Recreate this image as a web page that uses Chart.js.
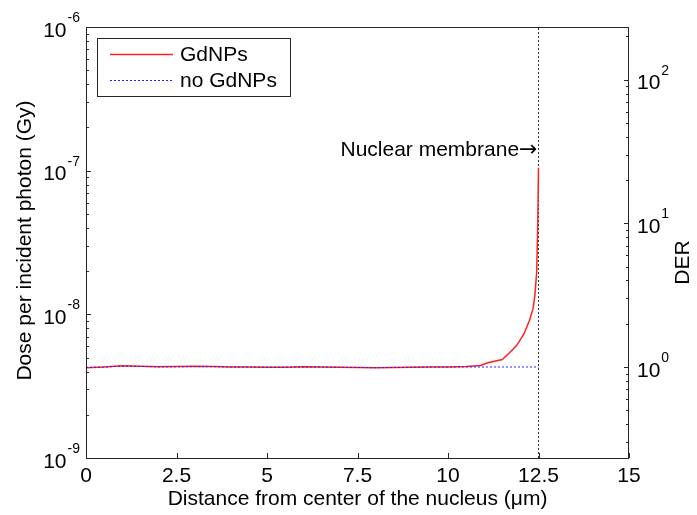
<!DOCTYPE html>
<html>
<head>
<meta charset="utf-8">
<script src="https://cdn.jsdelivr.net/npm/chart.js@4/dist/chart.umd.min.js"></script>
<style>
html,body{margin:0;padding:0;background:#fff;}
canvas{display:block;}
</style>
</head>
<body>
<canvas id="c" width="697" height="515"></canvas>
<script>
// ---- data ----
const distGd = [0, 0.5, 1, 1.5, 2, 2.5, 3, 3.5, 4, 4.5, 5, 5.5, 6, 6.5, 7, 7.5, 8, 8.5, 9, 9.5, 10, 10.5, 10.9, 11.1, 11.5, 11.7, 11.9, 12.1, 12.25, 12.35, 12.4, 12.45, 12.48, 12.5];
const doseGd = [4.25e-9, 4.3e-9, 4.38e-9, 4.36e-9, 4.32e-9, 4.33e-9, 4.35e-9, 4.33e-9, 4.3e-9, 4.3e-9, 4.28e-9, 4.29e-9, 4.31e-9, 4.3e-9, 4.28e-9, 4.26e-9, 4.24e-9, 4.27e-9, 4.29e-9, 4.3e-9, 4.3e-9, 4.33e-9, 4.41e-9, 4.6e-9, 4.85e-9, 5.4e-9, 6.08e-9, 7.33e-9, 9.07e-9, 1.10e-8, 1.35e-8, 1.97e-8, 4.2e-8, 1.05e-7];
const distNoGd = [0, 0.5, 1, 1.5, 2, 2.5, 3, 3.5, 4, 4.5, 5, 5.5, 6, 6.5, 7, 7.5, 8, 8.5, 9, 9.5, 10, 10.5, 11, 11.5, 12, 12.5];
const doseNoGd = [4.27e-9, 4.3e-9, 4.35e-9, 4.34e-9, 4.31e-9, 4.31e-9, 4.33e-9, 4.32e-9, 4.3e-9, 4.3e-9, 4.29e-9, 4.29e-9, 4.3e-9, 4.3e-9, 4.28e-9, 4.27e-9, 4.25e-9, 4.27e-9, 4.29e-9, 4.3e-9, 4.3e-9, 4.3e-9, 4.3e-9, 4.3e-9, 4.3e-9, 4.3e-9];
const membraneX = [12.5, 12.5];
const membraneY = [1e-9, 1e-6];
const seriesLabels = ['GdNPs', 'no GdNPs'];
const xTickValues = [0, 2.5, 5, 7.5, 10, 12.5, 15];
const xTickLabels = ['0', '2.5', '5', '7.5', '10', '12.5', '15'];
const yTickExponents = [-9, -8, -7, -6];
const derTickExponents = [0, 1, 2];
const derBase = 4.3e-9; // dose level that corresponds to DER = 1
const annotText = 'Nuclear membrane';
const annotArrow = '\u2192';
const annotX = 12.5;
const annotY = 1.38e-7;
const xTitle = 'Distance from center of the nucleus (\u03bcm)';
const yTitle = 'Dose per incident photon (Gy)';
const y2Title = 'DER';

const FONT = '"Liberation Sans", Arial, Helvetica, sans-serif';
const FS = 21;
const AX = '#262626';

function pts(xs, ys){ return xs.map((x,i)=>({x:x, y:ys[i]})); }

const decor = {
  id: 'decor',
  afterDraw(chart){
    const ctx = chart.ctx, ca = chart.chartArea;
    const xs = chart.scales.x, ys = chart.scales.y, y2 = chart.scales.y2;
    ctx.save();
    // box
    ctx.strokeStyle = AX; ctx.lineWidth = 1;
    ctx.strokeRect(Math.round(ca.left)+0.5, Math.round(ca.top)+0.5, Math.round(ca.right-ca.left)-1, Math.round(ca.bottom-ca.top));
    // x ticks (inward)
    ctx.beginPath();
    xTickValues.forEach(v=>{
      const px = Math.round(xs.getPixelForValue(v))+0.5;
      ctx.moveTo(px, ca.bottom); ctx.lineTo(px, ca.bottom-5);
    });
    // left y ticks
    for (let e = yTickExponents[0]; e < yTickExponents[yTickExponents.length-1]+1; e++){
      for (let k = 1; k <= 9; k++){
        const v = k*Math.pow(10,e);
        if (v < ys.min*0.999 || v > ys.max*1.001) continue;
        const py = Math.round(ys.getPixelForValue(v))+0.5;
        const len = k===1 ? 5 : 3;
        ctx.moveTo(ca.left, py); ctx.lineTo(ca.left+len, py);
      }
    }
    // right ticks
    for (let e = -1; e <= 2; e++){
      for (let k = 1; k <= 9; k++){
        const v = k*Math.pow(10,e);
        if (v < y2.min || v > y2.max) continue;
        const py = Math.round(y2.getPixelForValue(v))+0.5;
        const len = k===1 ? 5 : 3;
        ctx.moveTo(ca.right, py); ctx.lineTo(ca.right-len, py);
      }
    }
    ctx.stroke();

    ctx.fillStyle = '#000';
    // x tick labels
    ctx.font = FS + 'px ' + FONT;
    ctx.textAlign = 'center'; ctx.textBaseline = 'top';
    xTickValues.forEach((v,i)=>{
      ctx.fillText(xTickLabels[i], xs.getPixelForValue(v), ca.bottom + 8);
    });
    // power labels
    function powLabel(x, y, exp, align){
      ctx.font = FS + 'px ' + FONT;
      const wb = ctx.measureText('10').width;
      ctx.font = '14px ' + FONT;
      const es = String(exp);
      const we = ctx.measureText(es).width;
      let x0 = align === 'right' ? x - wb - we - 1 : x;
      ctx.textAlign = 'left'; ctx.textBaseline = 'middle';
      ctx.font = FS + 'px ' + FONT;
      ctx.fillText('10', x0, y + 4);
      ctx.font = '14px ' + FONT;
      ctx.fillText(es, x0 + wb + 1, y - 9);
    }
    yTickExponents.forEach(e=>{
      powLabel(ca.left - 6, ys.getPixelForValue(Math.pow(10,e)), e, 'right');
    });
    derTickExponents.forEach(e=>{
      powLabel(ca.right + 8, y2.getPixelForValue(Math.pow(10,e)), e, 'left');
    });
    // axis titles
    ctx.font = FS + 'px ' + FONT;
    ctx.textAlign = 'center'; ctx.textBaseline = 'middle';
    ctx.fillText(xTitle, (ca.left+ca.right)/2, ca.bottom + 41);
    ctx.save();
    ctx.translate(25, (ca.top+ca.bottom)/2 - 2);
    ctx.rotate(-Math.PI/2);
    ctx.fillText(yTitle, 0, 0);
    ctx.restore();
    ctx.save();
    ctx.translate(683, (ca.top+ca.bottom)/2 + 20);
    ctx.rotate(-Math.PI/2);
    ctx.fillText(y2Title, 0, 0);
    ctx.restore();
    // annotation
    const ax = xs.getPixelForValue(annotX) - 1, ay = ys.getPixelForValue(annotY);
    ctx.font = '22px "DejaVu Sans", sans-serif';
    const aw = ctx.measureText(annotArrow).width;
    ctx.textAlign = 'right'; ctx.textBaseline = 'middle';
    ctx.fillText(annotArrow, ax, ay);
    ctx.font = FS + 'px ' + FONT;
    ctx.fillText(annotText, ax - aw, ay);
    // legend
    const lx = ca.left + 11, ly = ca.top + 11, lw = 193, lh = 58;
    ctx.fillStyle = '#fff';
    ctx.fillRect(lx, ly, lw, lh);
    ctx.strokeStyle = AX; ctx.lineWidth = 1;
    ctx.strokeRect(lx+0.5, ly+0.5, lw, lh);
    const ds = chart.data.datasets;
    [0,1].forEach(i=>{
      const yy = ly + 16 + i*26;
      ctx.save();
      ctx.strokeStyle = ds[i].borderColor;
      ctx.lineWidth = ds[i].borderWidth;
      ctx.setLineDash(ds[i].borderDash || []);
      ctx.beginPath(); ctx.moveTo(lx+13, yy+0.5); ctx.lineTo(lx+76, yy+0.5); ctx.stroke();
      ctx.restore();
      ctx.fillStyle = '#000';
      ctx.font = FS + 'px ' + FONT;
      ctx.textAlign = 'left'; ctx.textBaseline = 'middle';
      ctx.fillText(seriesLabels[i], lx + 83, yy + 1);
    });
    ctx.restore();
  }
};

new Chart(document.getElementById('c'), {
  type: 'line',
  data: {
    datasets: [
      { label: seriesLabels[0], data: pts(distGd, doseGd), borderColor: '#ff2020', borderWidth: 1.5, pointRadius: 0, tension: 0, fill: false, yAxisID: 'y', order: 1 },
      { label: seriesLabels[1], data: pts(distNoGd, doseNoGd), borderColor: '#2020ff', borderWidth: 1, borderDash: [2,2], pointRadius: 0, tension: 0, fill: false, yAxisID: 'y', order: 0 },
      { label: 'membrane', data: pts(membraneX, membraneY), borderColor: '#333', borderWidth: 1, borderDash: [2,2], pointRadius: 0, fill: false, yAxisID: 'y', order: 2 }
    ]
  },
  options: {
    responsive: false,
    animation: false,
    events: [],
    layout: { padding: { left: 86, right: 68, top: 27, bottom: 57 } },
    plugins: { legend: { display: false }, tooltip: { enabled: false } },
    scales: {
      x: { type: 'linear', min: 0, max: 15, display: false },
      y: { type: 'logarithmic', min: 1e-9, max: 1e-6, display: false },
      y2: { type: 'logarithmic', position: 'right', min: 1e-9/derBase, max: 1e-6/derBase, display: false }
    }
  },
  plugins: [decor]
});
</script>
</body>
</html>
